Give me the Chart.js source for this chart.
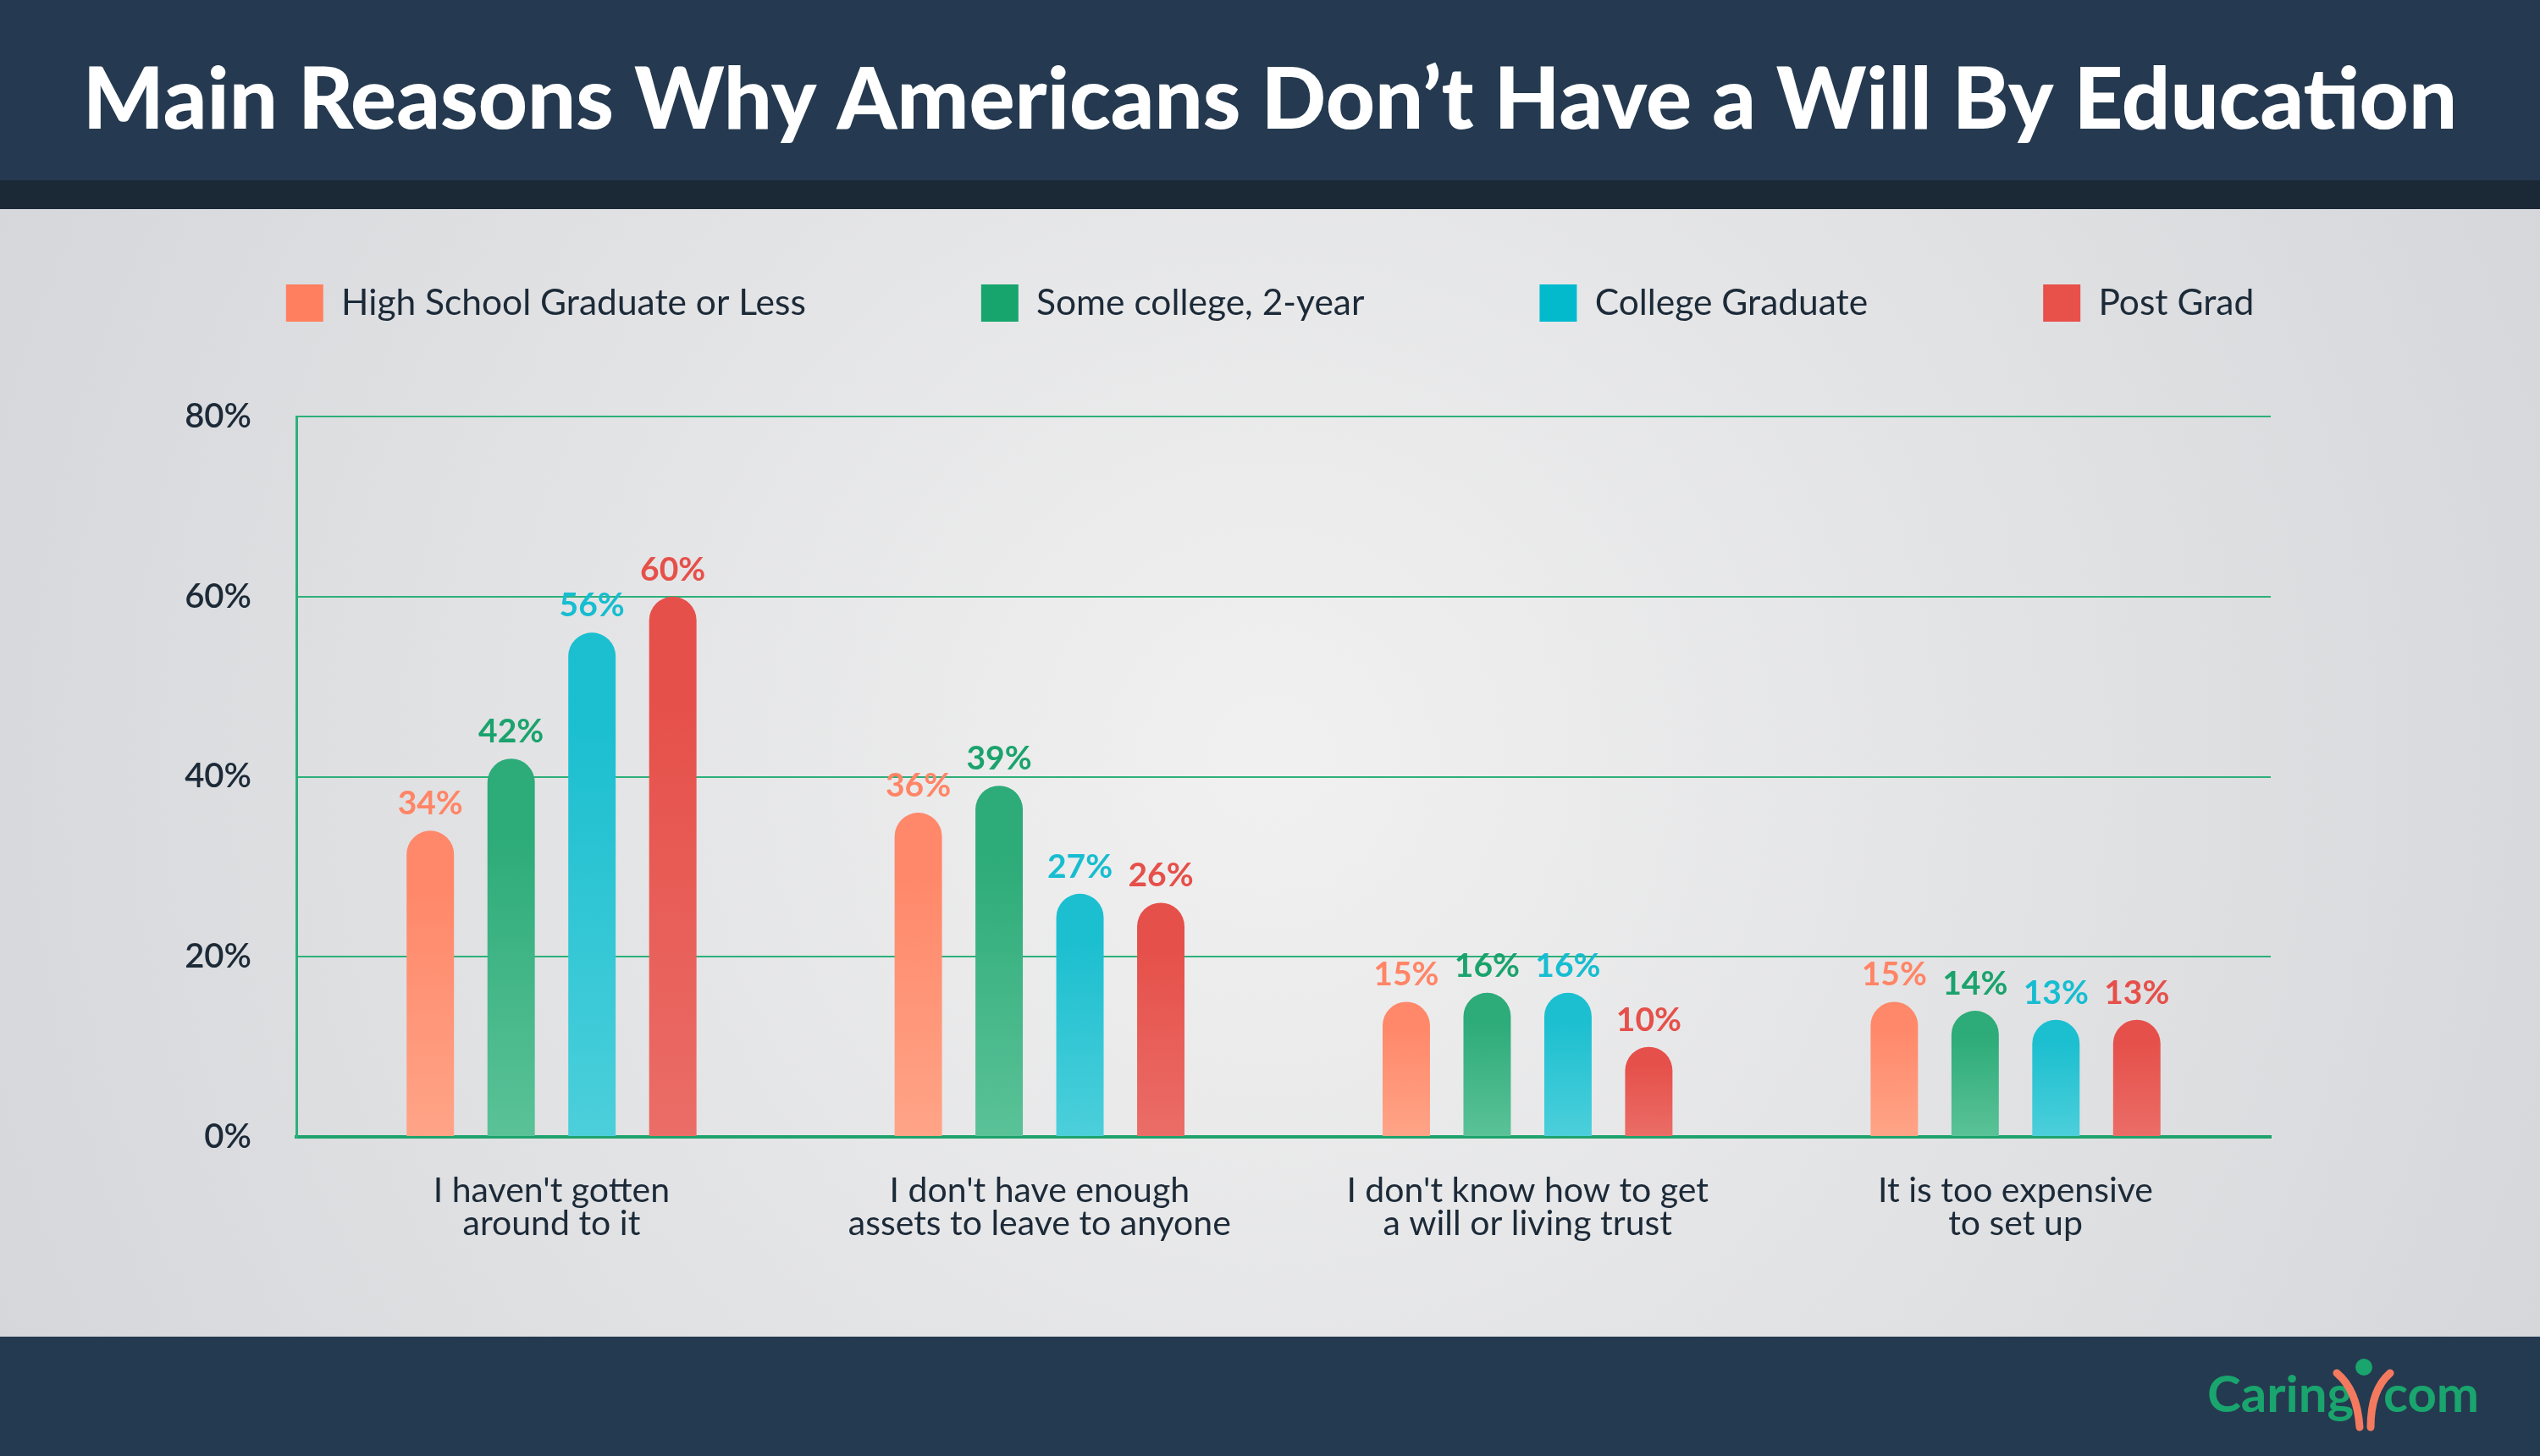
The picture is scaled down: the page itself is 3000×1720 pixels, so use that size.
<!DOCTYPE html>
<html>
<head>
<meta charset="utf-8">
<script src="https://cdn.jsdelivr.net/npm/chart.js@4.4.1/dist/chart.umd.min.js"></script>
<style>
html,body{margin:0;padding:0;background:#e6e6e8;}
#wrap{position:relative;width:3000px;height:1720px;overflow:hidden;}
canvas{display:block;}
.logo{position:absolute;font-family:Lato,sans-serif;font-weight:700;font-size:60px;line-height:60px;color:#19a56d;}
#logoFig{position:absolute;left:2752px;top:1600px;}
</style>
</head>
<body>
<div id="wrap">
<canvas id="c" width="3000" height="1720"></canvas>
<span class="logo" style="left:2607px;top:1615px;">Caring</span>
<svg id="logoFig" width="80" height="92" viewBox="0 0 80 92">
  <path d="M8 22 Q32 42 35 86" fill="none" stroke="#f47a5f" stroke-width="9" stroke-linecap="round"/>
  <path d="M71 22 Q48 42 48 86" fill="none" stroke="#f47a5f" stroke-width="9" stroke-linecap="round"/>
  <circle cx="40" cy="15" r="10" fill="#19a56d"/>
</svg>
<span class="logo" style="left:2815px;top:1615px;">com</span>
</div>
<script>
// ---------- data ----------
const titleText = "Main Reasons Why Americans Don\u2019t Have a Will By Education";
const categories = [
  ["I haven't gotten", "around to it"],
  ["I don't have enough", "assets to leave to anyone"],
  ["I don't know how to get", "a will or living trust"],
  ["It is too expensive", "to set up"]
];
const seriesNames = ["High School Graduate or Less", "Some college, 2-year", "College Graduate", "Post Grad"];
const highSchool  = [34, 36, 15, 15];
const someCollege = [42, 39, 16, 14];
const collegeGrad = [56, 27, 16, 13];
const postGrad    = [60, 26, 10, 13];
const yTicks = [0, 20, 40, 60, 80];

// ---------- styles ----------
const legendColors = ['#ff7f5f', '#17a56d', '#03bacd', '#e8504a'];
const barTop    = ['#ff886a', '#2dab79', '#1cbfd0', '#e6504a'];
const barBottom = ['#ffa487', '#5bc298', '#4ccfdb', '#eb6d67'];
const labelColors = ['#ff8566', '#1ba36d', '#17bdd0', '#e6504a'];
const textDark = '#1c2a38';
const gridGreen = '#2db07a';

function barGradient(i) {
  return function (ctx) {
    const chart = ctx.chart;
    const ys = chart.scales && chart.scales.y;
    if (!ys || ctx.raw === undefined || !chart.chartArea) return barTop[i];
    const top = ys.getPixelForValue(ctx.raw);
    const base = ys.getPixelForValue(0);
    if (!isFinite(top) || !isFinite(base) || top === base) return barTop[i];
    const g = chart.ctx.createLinearGradient(0, top, 0, base);
    g.addColorStop(0, barTop[i]);
    g.addColorStop(0.2, barTop[i]);
    g.addColorStop(1, barBottom[i]);
    return g;
  };
}

const seriesValues = [highSchool, someCollege, collegeGrad, postGrad];

const bgPlugin = {
  id: 'bg',
  beforeDraw(chart) {
    const {ctx, width, height} = chart;
    ctx.save();
    const g = ctx.createRadialGradient(width / 2, 900, 50, width / 2, 900, 1700);
    g.addColorStop(0, '#f0f0f0');
    g.addColorStop(1, '#d5d6da');
    ctx.fillStyle = g;
    ctx.fillRect(0, 0, width, height);
    ctx.fillStyle = '#253a50';
    ctx.fillRect(0, 0, width, 213);
    ctx.fillStyle = '#1b2836';
    ctx.fillRect(0, 213, width, 34);
    ctx.fillStyle = '#243a50';
    ctx.fillRect(0, 1579, width, height - 1579);
    ctx.restore();
  }
};

const TITLE_H = 129, LEGEND_H = 363;
const layoutPlugin = {
  id: 'fixLayout',
  beforeLayout(chart) {
    const t = chart.titleBlock, l = chart.legend;
    if (t && !t._wrapped) {
      const u = t.update;
      t.update = function () { u.apply(this, arguments); this.height = TITLE_H; };
      t._wrapped = true;
    }
    if (l && !l._wrapped) {
      const u = l.update;
      l.update = function () { u.apply(this, arguments); this.height = LEGEND_H; };
      l._wrapped = true;
    }
  }
};

const valueLabels = {
  id: 'valueLabels',
  afterDatasetsDraw(chart) {
    const ctx = chart.ctx;
    ctx.save();
    ctx.font = '700 39px Lato';
    ctx.textAlign = 'center';
    ctx.textBaseline = 'alphabetic';
    chart.data.datasets.forEach((ds, i) => {
      const meta = chart.getDatasetMeta(i);
      ctx.fillStyle = labelColors[i];
      meta.data.forEach((bar, j) => {
        ctx.fillText(ds.data[j] + '%', bar.x, bar.y - 19);
      });
    });
    ctx.restore();
  }
};

Chart.defaults.font.family = 'Lato';
const CAT_MARGIN = 0.023; // extra inset of the category band at both ends

new Chart(document.getElementById('c'), {
  type: 'bar',
  data: {
    labels: categories,
    datasets: seriesValues.map((vals, i) => ({
      label: seriesNames[i],
      data: vals,
      backgroundColor: barGradient(i),
      borderWidth: 0,
      borderRadius: {topLeft: 28, topRight: 28, bottomLeft: 0, bottomRight: 0},
      borderSkipped: 'start',
      categoryPercentage: 0.6626,
      barPercentage: 0.586
    }))
  },
  options: {
    responsive: false,
    devicePixelRatio: 1,
    animation: false,
    layout: {padding: 0},
    plugins: {
      title: {
        display: true,
        text: titleText,
        color: '#ffffff',
        font: {family: 'Lato', size: 101, weight: '900', lineHeight: 1.2},
        padding: {top: 59, bottom: 0}
      },
      legend: {
        display: true,
        position: 'top',
        labels: {
          boxWidth: 44,
          boxHeight: 44,
          padding: 207,
          color: textDark,
          font: {family: 'Lato', size: 42.5},
          generateLabels: (chart) => chart.data.datasets.map((ds, i) => ({
            text: ds.label,
            fillStyle: legendColors[i],
            strokeStyle: legendColors[i],
            lineWidth: 0,
            hidden: false,
            datasetIndex: i,
            fontColor: textDark
          }))
        }
      },
      tooltip: {enabled: false}
    },
    scales: {
      x: {
        grid: {display: false, drawTicks: false},
        border: {display: true, color: '#1ea36d', width: 4},
        ticks: {color: textDark, font: {family: 'Lato', size: 41, lineHeight: 0.95}, padding: 44, maxRotation: 0, autoSkip: false},
        afterBuildTicks(scale) {
          scale._startValue -= CAT_MARGIN;
          scale._valueRange += 2 * CAT_MARGIN;
        },
        afterFit(scale) { scale.height = 1720 - 1343; }
      },
      y: {
        min: 0,
        max: 80,
        afterBuildTicks(scale) { scale.ticks = yTicks.map(v => ({value: v})); },
        grid: {color: gridGreen, lineWidth: 2, drawTicks: false},
        border: {display: true, color: gridGreen, width: 3},
        ticks: {color: textDark, font: {family: 'Lato', size: 40, weight: '600'}, padding: 53, callback: v => v + '%'},
        afterFit(scale) { scale.width = 350; }
      },
      yRight: {
        position: 'right',
        display: true,
        grid: {display: false, drawTicks: false},
        border: {display: false},
        ticks: {display: false},
        afterFit(scale) { scale.width = 318; }
      }
    }
  },
  plugins: [bgPlugin, layoutPlugin, valueLabels]
});
</script>
</body>
</html>
